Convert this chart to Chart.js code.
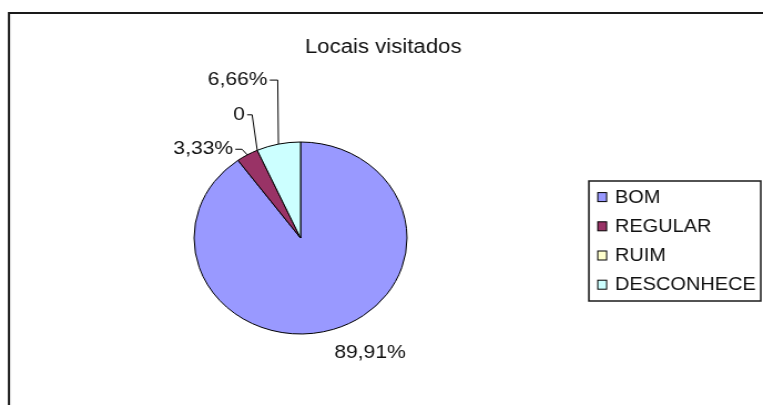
<!DOCTYPE html>
<html>
<head>
<meta charset="utf-8">
<script src="https://cdn.jsdelivr.net/npm/chart.js@4.4.0/dist/chart.umd.min.js"></script>
<style>
  html, body { margin: 0; padding: 0; background: #fff; overflow: hidden; }
  /* the chart is laid out on a narrower canvas and widened horizontally */
  #wrap {
    position: absolute; left: 0; top: 0;
    width: 688px; height: 405px;
    transform: scaleX(1.109); transform-origin: 0 0;
  }
</style>
</head>
<body>
<div id="wrap"><canvas id="c"></canvas></div>
<script>
// ---- data ----
const chartTitle = 'Locais visitados';
const categories = ['BOM', 'REGULAR', 'RUIM', 'DESCONHECE'];
const percentages = [89.91, 3.33, 0, 6.66];
const sliceColors = ['#9999ff', '#993366', '#ffffcc', '#ccffff'];

// ---- layout ----
const FONT = '"Liberation Sans", Arial, sans-serif';
const INK = '#111';
// offset from each slice's outer edge midpoint to the leader elbow (or text centre)
const labelLayout = [
  { dx: 33, dy: 23.5, leader: false },
  { dx: -4.8, dy: -5.6, leader: true, tick: 6 },
  { dx: -4.6, dy: -35.5, leader: true, tick: 4.5 },
  { dx: -0.6, dy: -64, leader: true, tick: 7.2 }
];
const legendBox = { left: 531, top: 181, right: 686, bottom: 301 };
const legendRows = { swatchX: 539, textX: 554.5, firstY: 196.6, step: 29.2, sw: 8, sh: 9 };

function formatValue(v) {
  return v === 0 ? '0' : v.toFixed(2).replace('.', ',') + '%';
}

const decorPlugin = {
  id: 'decor',
  beforeDraw(chart) {
    const ctx = chart.ctx;
    ctx.save();
    ctx.fillStyle = '#fff';
    ctx.fillRect(0, 0, chart.width, chart.height);
    // outer frame (only top and left edges fall inside the view)
    ctx.strokeStyle = '#1a1a1a';
    ctx.lineWidth = 2;
    ctx.beginPath();
    ctx.moveTo(8.1, chart.height + 5);
    ctx.lineTo(8.1, 13);
    ctx.lineTo(chart.width + 5, 13);
    ctx.stroke();
    ctx.restore();
  },
  afterDraw(chart) {
    const ctx = chart.ctx;
    ctx.save();
    // title
    ctx.fillStyle = INK;
    ctx.font = '20px ' + FONT;
    ctx.textAlign = 'left';
    ctx.textBaseline = 'alphabetic';
    ctx.fillText(chartTitle, 275, 53.3);

    // legend frame
    ctx.strokeStyle = '#1a1a1a';
    ctx.lineWidth = 1.5;
    ctx.strokeRect(legendBox.left, legendBox.top,
      legendBox.right - legendBox.left, legendBox.bottom - legendBox.top);

    // legend rows
    const ds = chart.data.datasets[0];
    ctx.font = '18px ' + FONT;
    ctx.textBaseline = 'middle';
    chart.data.labels.forEach((lab, i) => {
      const cy = legendRows.firstY + i * legendRows.step;
      ctx.fillStyle = ds.backgroundColor[i];
      ctx.fillRect(legendRows.swatchX, cy - legendRows.sh / 2 + 0.5, legendRows.sw, legendRows.sh);
      ctx.strokeStyle = '#000';
      ctx.lineWidth = 1;
      ctx.strokeRect(legendRows.swatchX, cy - legendRows.sh / 2 + 0.5, legendRows.sw, legendRows.sh);
      ctx.fillStyle = INK;
      ctx.fillText(lab, legendRows.textX, cy + 1);
    });
    ctx.restore();
  },
  afterDatasetsDraw(chart) {
    const ctx = chart.ctx;
    const meta = chart.getDatasetMeta(0);
    const values = chart.data.datasets[0].data;
    ctx.save();
    ctx.font = '19px ' + FONT;
    ctx.fillStyle = INK;
    ctx.strokeStyle = '#000';
    ctx.lineWidth = 1;
    ctx.textBaseline = 'middle';
    meta.data.forEach((arc, i) => {
      const p = arc.getProps(['x', 'y', 'startAngle', 'endAngle', 'outerRadius'], true);
      const mid = (p.startAngle + p.endAngle) / 2;
      const ex = p.x + Math.cos(mid) * p.outerRadius;
      const ey = p.y + Math.sin(mid) * p.outerRadius;
      const L = labelLayout[i];
      const text = formatValue(values[i]);
      if (!L.leader) {
        ctx.textAlign = 'center';
        ctx.fillText(text, ex + L.dx, ey + L.dy);
        return;
      }
      const bx = ex + L.dx, by = ey + L.dy;
      ctx.beginPath();
      ctx.moveTo(ex, ey);
      ctx.lineTo(bx, by);
      ctx.lineTo(bx - L.tick, by);
      ctx.stroke();
      ctx.textAlign = 'right';
      ctx.fillText(text, bx - L.tick - 2, by);
    });
    ctx.restore();
  }
};

new Chart(document.getElementById('c'), {
  type: 'pie',
  data: {
    labels: categories,
    datasets: [{
      data: percentages,
      backgroundColor: sliceColors,
      borderColor: '#000',
      borderWidth: 1
    }]
  },
  options: {
    responsive: true,
    maintainAspectRatio: false,
    animation: false,
    radius: 96,
    layout: { padding: { left: 174, right: 320, top: 141, bottom: 70 } },
    plugins: {
      legend: { display: false },
      title: { display: false },
      tooltip: { enabled: false }
    }
  },
  plugins: [decorPlugin]
});
</script>
</body>
</html>
